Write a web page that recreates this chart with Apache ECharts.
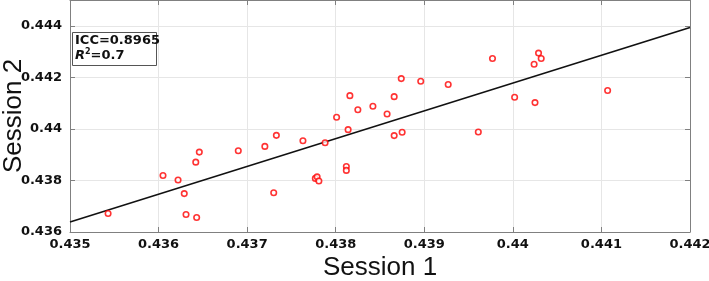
<!DOCTYPE html>
<html>
<head>
<meta charset="utf-8">
<script src="https://cdn.jsdelivr.net/npm/echarts@6/dist/echarts.min.js"></script>
<style>html,body{margin:0;padding:0;background:#fff;}#c{width:709px;height:281px;}</style>
</head>
<body>
<div id="c"></div>
<script>
const session1 = [0.43543,0.43605,0.43622,0.43629,0.43631,0.43643,0.43642,0.43646,0.43690,0.43730,0.43720,0.43733,0.43763,0.43777,0.43779,0.43781,0.43788,0.43801,0.43812,0.43812,0.43814,0.43816,0.43825,0.43842,0.43858,0.43866,0.43866,0.43874,0.43875,0.43896,0.43927,0.43961,0.43977,0.44002,0.44025,0.44024,0.44029,0.44032,0.44107];
const session2 = [0.43672,0.43819,0.43802,0.43749,0.43668,0.43656,0.43871,0.43910,0.43915,0.43752,0.43932,0.43975,0.43954,0.43808,0.43814,0.43798,0.43946,0.44045,0.43854,0.43839,0.43997,0.44129,0.44074,0.44088,0.44058,0.43974,0.44125,0.44195,0.43987,0.44185,0.44172,0.43988,0.44273,0.44123,0.44102,0.44251,0.44294,0.44273,0.44149];
const fitX = [0.435, 0.442];
const fitY = [0.43639, 0.44393];
const xTicks = {min: 0.435, max: 0.442, interval: 0.001};
const yTicks = {min: 0.436, max: 0.445, interval: 0.002};
const statLines = ['ICC=0.8965', 'R²=0.7'];

const chart = echarts.init(document.getElementById('c'));
const axisCol = '#808080';
const labelStyle = {color: '#111', fontWeight: 'bold', fontSize: 13, fontFamily: 'DejaVu Sans'};
const nameStyle = {color: '#111', fontSize: 26, fontFamily: 'Liberation Sans'};
chart.setOption({
  animation: false,
  grid: {left: 70, right: 19, top: 0, bottom: 49, containLabel: false, outerBoundsMode: 'none'},
  xAxis: [{
    type: 'value', min: xTicks.min, max: xTicks.max, interval: xTicks.interval,
    name: 'Session 1', nameLocation: 'middle', nameGap: 23, nameMoveOverlap: false, nameTextStyle: nameStyle,
    axisLine: {show: true, lineStyle: {color: axisCol, width: 1}},
    axisTick: {show: true, inside: true, length: 5, lineStyle: {color: axisCol}},
    axisLabel: Object.assign({margin: 6}, labelStyle),
    splitLine: {show: true, lineStyle: {color: '#e6e6e6', width: 1}}
  }, {
    type: 'value', position: 'top', min: xTicks.min, max: xTicks.max, interval: xTicks.interval,
    axisLine: {show: true, onZero: false, lineStyle: {color: axisCol, width: 1}},
    axisTick: {show: true, inside: true, length: 5, lineStyle: {color: axisCol}},
    axisLabel: {show: false}, splitLine: {show: false}
  }],
  yAxis: [{
    type: 'value', min: yTicks.min, max: yTicks.max, interval: yTicks.interval,
    name: 'Session 2', nameLocation: 'middle', nameGap: 43, nameMoveOverlap: false, nameTextStyle: nameStyle,
    axisLine: {show: true, onZero: false, lineStyle: {color: axisCol, width: 1}},
    axisTick: {show: true, inside: true, length: 5, lineStyle: {color: axisCol}},
    axisLabel: Object.assign({margin: 8, showMaxLabel: false}, labelStyle),
    splitLine: {show: true, lineStyle: {color: '#e6e6e6', width: 1}}
  }, {
    type: 'value', position: 'right', min: yTicks.min, max: yTicks.max, interval: yTicks.interval,
    axisLine: {show: true, onZero: false, lineStyle: {color: axisCol, width: 1}},
    axisTick: {show: true, inside: true, length: 5, lineStyle: {color: axisCol}},
    axisLabel: {show: false}, splitLine: {show: false}
  }],
  series: [{
    type: 'line', data: fitX.map((x, i) => [x, fitY[i]]),
    showSymbol: false, symbol: 'none', lineStyle: {color: '#111', width: 1.6}, z: 3
  }, {
    type: 'scatter', data: session1.map((x, i) => [x, session2[i]]),
    symbol: 'circle', symbolSize: 5.5,
    itemStyle: {color: '#fff', borderColor: '#ff0000', borderWidth: 1.6}, z: 4
  }],
  graphic: [{
    type: 'rect', left: 72, top: 32, shape: {width: 84, height: 33},
    style: {fill: '#fff', stroke: '#555', lineWidth: 1}, z: 10
  }, {
    type: 'text', left: 75, top: 34, z: 11,
    style: {
      text: '{b|' + statLines[0] + '}\n{i|R}{s|2}{b|=0.7}',
      rich: {
        b: {fontFamily: 'DejaVu Sans', fontWeight: 'bold', fontSize: 13, fill: '#111', lineHeight: 15},
        i: {fontFamily: 'DejaVu Sans', fontWeight: 'bold', fontStyle: 'italic', fontSize: 13, fill: '#111', lineHeight: 15},
        s: {fontFamily: 'DejaVu Sans', fontWeight: 'bold', fontSize: 8, fill: '#111', verticalAlign: 'top', lineHeight: 15, padding: [0, 0, 6, 0]}
      }
    }
  }]
});
</script>
</body>
</html>
